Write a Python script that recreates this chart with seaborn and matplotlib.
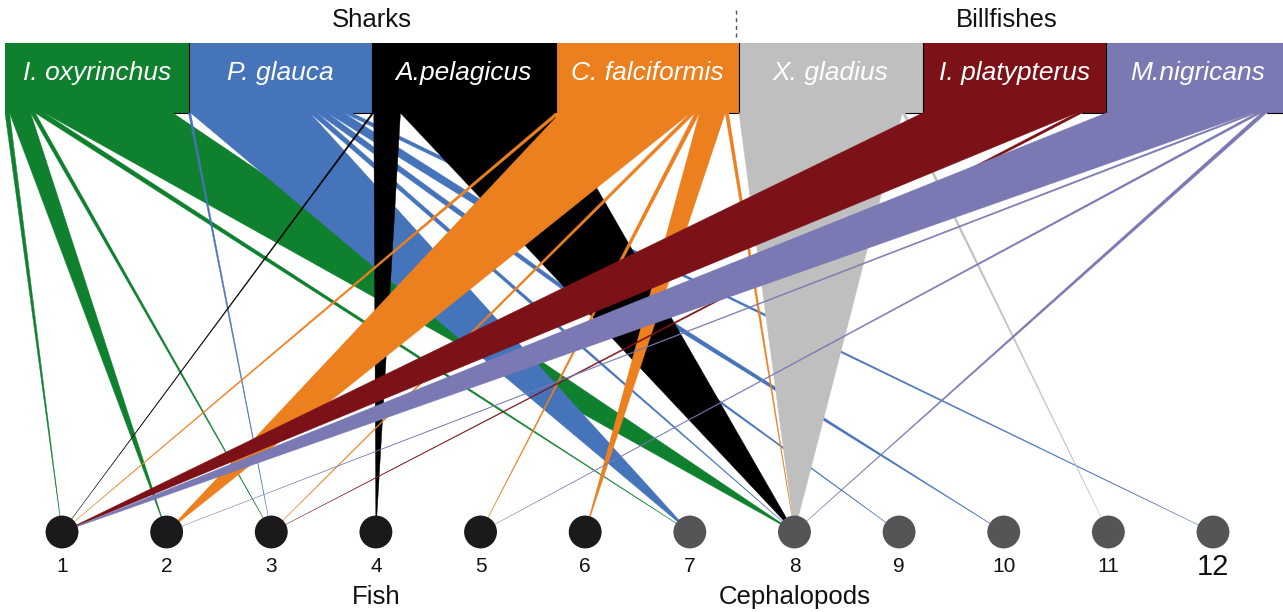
# =========================
# LIBRARIES
# =========================
import numpy as np
import pandas as pd
import matplotlib
matplotlib.use("Agg")
import matplotlib.pyplot as plt
import seaborn as sns


# =========================
# CONFIG
# =========================
sns.set_theme(style="white")
plt.rcParams["font.family"] = ["Liberation Sans", "DejaVu Sans"]


# =========================
# DATA
# =========================
predators = ["I. oxyrinchus", "P. glauca", "A.pelagicus", "C. falciformis",
             "X. gladius", "I. platypterus", "M.nigricans"]
predator_group = ["Sharks", "Sharks", "Sharks", "Sharks",
                  "Billfishes", "Billfishes", "Billfishes"]
predator_colors = ["#0e802e", "#4674ba", "#000000", "#ec7f1e",
                   "#bfbfbf", "#7c1218", "#7a79b4"]

prey = ["1", "2", "3", "4", "5", "6", "7", "8", "9", "10", "11", "12"]
prey_group = ["Fish"] * 6 + ["Cephalopods"] * 6

# diet links: prey eaten and share of the predator's box (%)
oxy_prey = [1, 2, 3, 7, 8]
oxy_diet = [2.5, 11.5, 2.5, 5.0, 70.0]

glauca_prey = [3, 7, 8, 9, 10, 12]
glauca_diet = [1.2, 65.0, 4.0, 5.5, 9.0, 4.5]

pelagicus_prey = [1, 4, 8]
pelagicus_diet = [1.0, 14.5, 83.5]

falci_prey = [1, 2, 3, 5, 6, 8]
falci_diet = [2.5, 71.0, 2.5, 2.5, 14.0, 1.8]

gladius_prey = [8, 11]
gladius_diet = [89.0, 1.5]

platy_prey = [1, 3]
platy_diet = [84.0, 3.0]

nigri_prey = [1, 2, 5, 8]
nigri_diet = [79.5, 2.5, 2.5, 3.0]

diet_prey = [oxy_prey, glauca_prey, pelagicus_prey, falci_prey,
             gladius_prey, platy_prey, nigri_prey]
diet_share = [oxy_diet, glauca_diet, pelagicus_diet, falci_diet,
              gladius_diet, platy_diet, nigri_diet]


# =========================
# LAYOUT
# =========================
W, H = 1283, 612
box_left0 = 5
box_w = 183.5
box_top, box_bottom = 43, 113
node_y = 532
prey_x = np.linspace(62, 1213, len(prey))

df_pred = pd.DataFrame({
    "predador": predators,
    "grupo": predator_group,
    "cor": predator_colors,
})
df_pred["esq"] = box_left0 + box_w * np.arange(len(predators))
df_pred["centro"] = df_pred["esq"] + box_w / 2

df_prey = pd.DataFrame({"presa": prey, "grupo": prey_group, "x": prey_x})
df_prey["y"] = node_y


# =========================
# FIGURE
# =========================
fig = plt.figure(figsize=(W / 100, H / 100), dpi=100)
ax = fig.add_axes([0, 0, 1, 1])
ax.set_xlim(0, W)
ax.set_ylim(H, 0)
ax.axis("off")

# predator boxes
ax.bar(df_pred["centro"], box_bottom - box_top, bottom=box_top,
       width=box_w, color=df_pred["cor"], linewidth=0, zorder=1)

for i, row in df_pred.iterrows():
    ax.text(row["centro"], 73, row["predador"], color="white",
            fontsize=19, fontstyle="italic", ha="center", va="center", zorder=5)
    if i > 0:
        ax.plot([row["esq"], row["esq"]], [box_top, box_bottom],
                color="black", lw=0.8, zorder=2)

# links (wedges from the box bottom to the prey node)
for i, row in df_pred.iterrows():
    start = row["esq"]
    for p, share in zip(diet_prey[i], diet_share[i]):
        w = box_w * share / 100
        px = df_prey["x"].iloc[p - 1]
        ax.fill([start, start + w, px], [box_bottom, box_bottom, node_y],
                color=row["cor"], edgecolor=row["cor"], lw=0.3, zorder=3 + i * 0.01)
        start += w
    ax.plot([start, row["esq"] + box_w], [box_bottom, box_bottom],
            color="black", lw=0.8, zorder=2)

# group labels on top
for grupo in ["Sharks", "Billfishes"]:
    sub = df_pred[df_pred["grupo"] == grupo]
    cx = (sub["esq"].min() + sub["esq"].max() + box_w) / 2
    if grupo == "Billfishes":
        cx = min(cx, 1007)
    ax.text(cx, 20, grupo, fontsize=18.5, ha="center", va="center", color="#111111")

sep_x = df_pred.loc[4, "esq"] - 3
ax.plot([sep_x, sep_x], [10, 40], color="#555555", lw=1, ls=(0, (3, 2.5)))

# prey nodes
sns.scatterplot(data=df_prey, x="x", y="y", hue="grupo",
                palette={"Fish": "#1b191b", "Cephalopods": "#555457"},
                s=560, linewidth=0, legend=False, ax=ax, zorder=10)

for _, row in df_prey.iterrows():
    fs = 21 if row["presa"] == "12" else 15
    ax.text(row["x"], 567, row["presa"], fontsize=fs, ha="center", va="center",
            color="#111111")

ax.text(df_prey["x"].iloc[3], 597, "Fish", fontsize=18.5, ha="center", va="center",
        color="#111111")
ax.text(df_prey["x"].iloc[7], 597, "Cephalopods", fontsize=18.5, ha="center",
        va="center", color="#111111")

plt.savefig("out.png", dpi=100)
